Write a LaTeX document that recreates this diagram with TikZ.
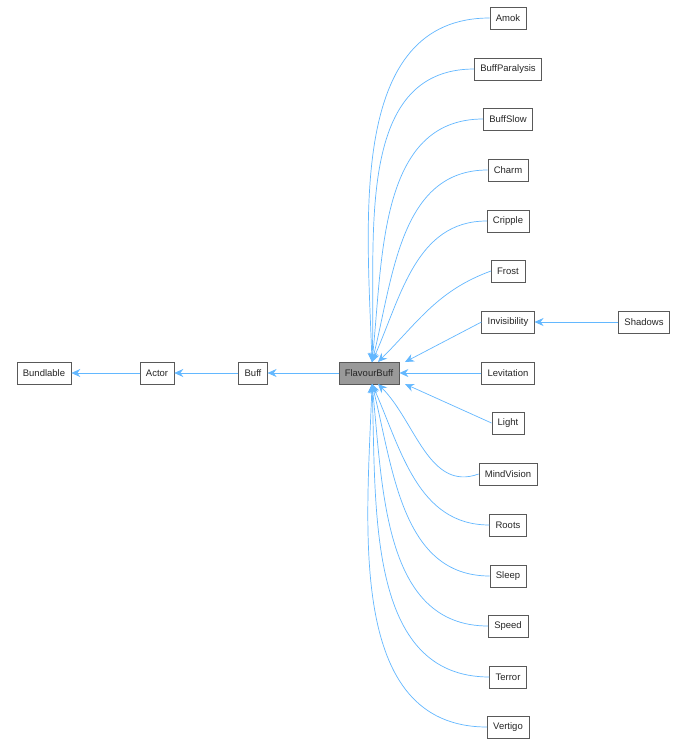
\documentclass[tikz,border=0pt]{standalone}
\usepackage{fontspec}
\setmainfont{Liberation Sans}
\usetikzlibrary{arrows.meta}
\definecolor{edge}{HTML}{63B8FF}
\begin{document}
\begin{tikzpicture}[x=1pt,y=-1pt,
  box/.style={draw=black!65,fill=white,minimum height=22pt,inner xsep=6pt,font=\fontsize{9.5}{11}\selectfont,text=black!85},
  inh/.style={draw=edge,line width=0.7pt,-{Stealth[length=9pt,width=8pt,fill=edge]}}]
\useasboundingbox[fill=white] (0,0) rectangle (687,747);
\node[box] (bund) at (44,373) {Bundlable};
\node[box] (actor) at (157,373) {Actor};
\node[box] (buff) at (253,373) {Buff};
\node[box,fill=black!40] (fb) at (369,373) {FlavourBuff};
\node[box] (amok) at (508,18) {Amok};
\node[box] (para) at (508,69) {BuffParalysis};
\node[box] (slow) at (508,119) {BuffSlow};
\node[box] (charm) at (508,170) {Charm};
\node[box] (crip) at (508,221) {Cripple};
\node[box] (frost) at (508,271) {Frost};
\node[box] (invis) at (508,322) {Invisibility};
\node[box] (shad) at (644,322) {Shadows};
\node[box] (levi) at (508,373) {Levitation};
\node[box] (light) at (508,423) {Light};
\node[box] (mind) at (508,474) {MindVision};
\node[box] (roots) at (508,525) {Roots};
\node[box] (sleep) at (508,576) {Sleep};
\node[box] (speed) at (508,626) {Speed};
\node[box] (terror) at (508,677) {Terror};
\node[box] (vert) at (508,727) {Vertigo};
\draw[inh] (actor) -- (bund);
\draw[inh] (buff) -- (actor);
\draw[inh] (fb) -- (buff);
\draw[inh] (levi) -- (fb);
\draw[inh] (shad) -- (invis);
\coordinate (ft) at (372,362);
\coordinate (fbt) at (372,384);
\draw[inh] (amok.west) to[out=180,in=92] (ft);
\draw[inh] (para.west) to[out=180,in=88] (ft);
\draw[inh] (slow.west) to[out=180,in=84] (ft);
\draw[inh] (charm.west) to[out=180,in=76] (ft);
\draw[inh] (crip.west) to[out=180,in=66] (ft);
\draw[inh] (frost.west) to[out=200,in=45] (378,362);
\draw[inh] (invis.west) -- (405,362);
\draw[inh] (light.west) -- (405,384);
\draw[inh] (mind.west) to[out=200,in=-45] (378,384);
\draw[inh] (roots.west) to[out=180,in=-66] (fbt);
\draw[inh] (sleep.west) to[out=180,in=-76] (fbt);
\draw[inh] (speed.west) to[out=180,in=-84] (fbt);
\draw[inh] (terror.west) to[out=180,in=-88] (fbt);
\draw[inh] (vert.west) to[out=180,in=-92] (fbt);
\end{tikzpicture}
\end{document}
